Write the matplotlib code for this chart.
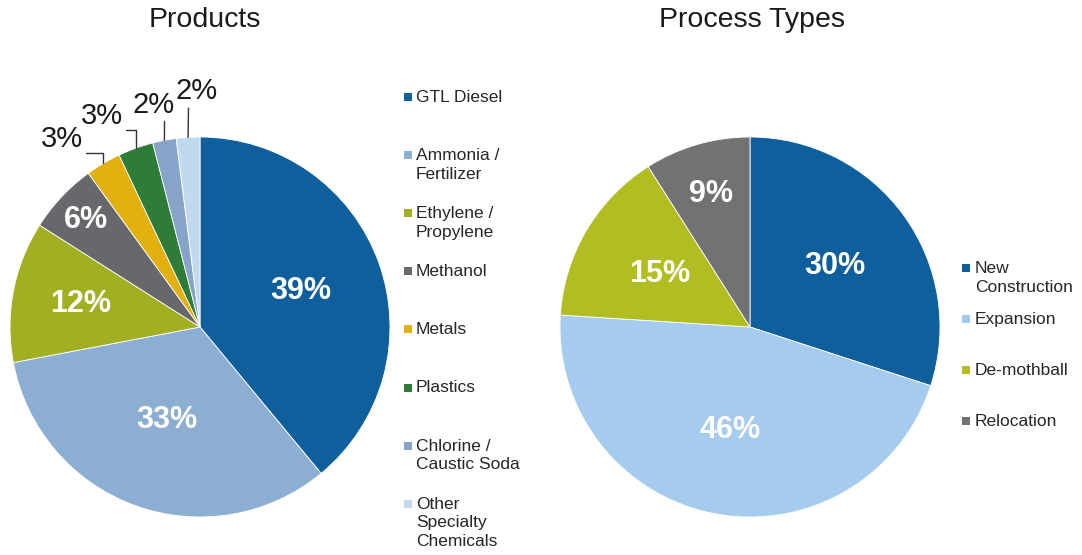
import numpy as np
import matplotlib
matplotlib.use("Agg")
import matplotlib.pyplot as plt
from matplotlib.patches import Rectangle

plt.rcParams['font.family'] = ['Liberation Sans', 'DejaVu Sans']

W, H = 1082, 555

# data
prod_labels = ["GTL Diesel", "Ammonia /\nFertilizer", "Ethylene /\nPropylene", "Methanol",
               "Metals", "Plastics", "Chlorine /\nCaustic Soda", "Other\nSpecialty\nChemicals"]
prod_values = [39, 33, 12, 6, 3, 3, 2, 2]
prod_colors = ["#0E5F9C", "#8DAED3", "#A2AF22", "#67686B",
               "#E2B00F", "#2E7C38", "#87A3C8", "#C0D9EF"]

proc_labels = ["New\nConstruction", "Expansion", "De-mothball", "Relocation"]
proc_values = [30, 46, 15, 9]
proc_colors = ["#0E5F9C", "#A5CCEE", "#B1BD21", "#727275"]

# label placement (layout)
prod_inner_r = [0.565, 0.52, 0.64, 0.82]
prod_outer_pos = [(-0.726, 0.99), (-0.516, 1.11), (-0.242, 1.17), (-0.016, 1.24)]
prod_outer_rel = [(1.0, 0.0), (1.0, 0.0), (0.75, 0.0), (0.3, 0.0)]
proc_inner_r = [0.55, 0.55, 0.55, 0.73]

fig = plt.figure(figsize=(W / 100, H / 100), dpi=100)


def pie_axes(cx, cy, half=210):
    ax = fig.add_axes([(cx - half) / W, (H - cy - half) / H, 2 * half / W, 2 * half / H])
    return ax


def fix_limits(ax, half=210):
    lim = half / 190
    ax.set_xlim(-lim, lim)
    ax.set_ylim(-lim, lim)
    ax.set_aspect('equal')
    ax.axis('off')


def mid(w):
    a = np.deg2rad((w.theta1 + w.theta2) / 2)
    return np.cos(a), np.sin(a)


# Products pie
ax1 = pie_axes(200, 327)
wedges1, _ = ax1.pie(prod_values, colors=prod_colors, startangle=90, counterclock=False,
                     radius=1.0, wedgeprops=dict(edgecolor='white', linewidth=0.6))
fix_limits(ax1)
for i, w in enumerate(wedges1):
    c, s = mid(w)
    txt = f"{prod_values[i]}%"
    if i < len(prod_inner_r):
        r = prod_inner_r[i]
        ax1.text(r * c, r * s, txt, ha='center', va='center', color='white',
                 fontsize=22, fontweight='bold')
    else:
        j = i - len(prod_inner_r)
        ax1.annotate(txt, xy=(c, s), xytext=prod_outer_pos[j], ha='center', va='center',
                     fontsize=21, color='#1a1a1a', annotation_clip=False,
                     arrowprops=dict(arrowstyle='-', color='#333333', lw=1.0,
                                     relpos=prod_outer_rel[j], shrinkA=0, shrinkB=0,
                                     connectionstyle=("angle,angleA=0,angleB=90,rad=0"
                                                      if j < 2 else "arc3")))

# Process Types pie
ax2 = pie_axes(750, 327)
wedges2, _ = ax2.pie(proc_values, colors=proc_colors, startangle=90, counterclock=False,
                     radius=1.0, wedgeprops=dict(edgecolor='white', linewidth=0.6))
fix_limits(ax2)
for i, w in enumerate(wedges2):
    c, s = mid(w)
    r = proc_inner_r[i]
    ax2.text(r * c, r * s, f"{proc_values[i]}%", ha='center', va='center', color='white',
             fontsize=22, fontweight='bold')

# titles
fig.text(205 / W, 1 - 20 / H, "Products", ha='center', va='center', fontsize=20.5, color='#1a1a1a')
fig.text(752 / W, 1 - 20 / H, "Process Types", ha='center', va='center', fontsize=20.5, color='#1a1a1a')


def legend(labels, colors, x_sq, x_txt, y0, step, fs):
    for i, (lab, col) in enumerate(zip(labels, colors)):
        y = y0 + i * step
        fig.add_artist(Rectangle((x_sq / W, 1 - (y + 4) / H), 8 / W, 8 / H,
                                 transform=fig.transFigure, color=col, lw=0))
        fig.text(x_txt / W, 1 - (y - 7) / H, lab, ha='left', va='top', fontsize=fs,
                 color='#262626', linespacing=1.3)


legend(prod_labels, prod_colors, 404, 416, 97, 58.1, 12.5)
legend(proc_labels, proc_colors, 962, 975, 268, 51, 12.5)

fig.savefig("out.png", dpi=100, facecolor='white')
